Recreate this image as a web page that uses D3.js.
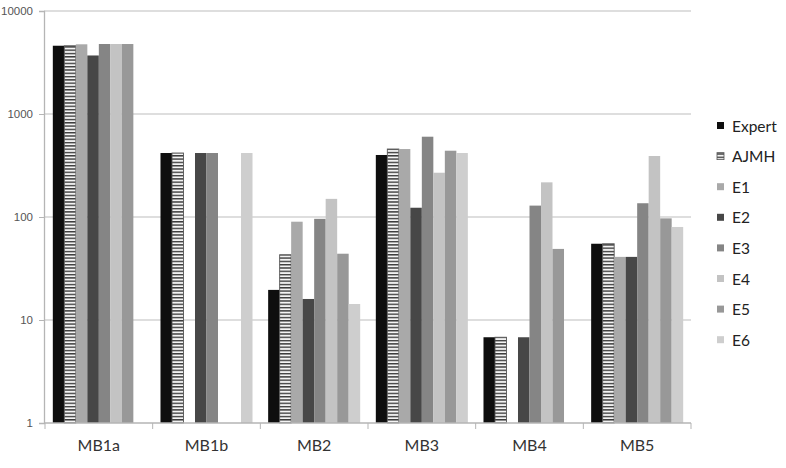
<!DOCTYPE html>
<html>
<head>
<meta charset="utf-8">
<script src="https://cdn.jsdelivr.net/npm/d3@7"></script>
<style>
  body { margin: 0; background: #fff; }
  svg { display: block; font-family: Lato, "Open Sans", sans-serif; }
</style>
</head>
<body>
<svg id="chart"></svg>
<script>
let width = 786,
  height = 468;

// Data (log scale values, null = no bar)
const groups = ["MB1a", "MB1b", "MB2", "MB3", "MB4", "MB5"];
const series = ["Expert", "AJMH", "E1", "E2", "E3", "E4", "E5", "E6"];
const Expert = [4600, 418, 19.6, 400, 6.8, 55];
const AJMH = [4600, 418, 43, 457, 6.8, 55];
const E1 = [4750, null, 90, 457, null, 41];
const E2 = [3700, 418, 16, 123, 6.8, 41];
const E3 = [4780, 418, 96, 602, 129, 136];
const E4 = [4780, null, 150, 269, 217, 391];
const E5 = [4780, null, 44, 440, 49, 97];
const E6 = [null, 418, 14.3, 418, null, 80];
const yTicks = [1, 10, 100, 1000, 10000];

const values = { Expert, AJMH, E1, E2, E3, E4, E5, E6 };
const colors = {
  Expert: "#0e0e0e",
  AJMH: "url(#stripes)",
  E1: "#a9a9a9",
  E2: "#474747",
  E3: "#858585",
  E4: "#c3c3c3",
  E5: "#989898",
  E6: "#cecece",
};

let svg = d3.select("#chart").attr("width", width).attr("height", height);

// striped pattern for AJMH
let pat = svg
  .append("defs")
  .append("pattern")
  .attr("id", "stripes")
  .attr("patternUnits", "userSpaceOnUse")
  .attr("width", 12)
  .attr("height", 3.3);
pat.append("rect").attr("width", 12).attr("height", 3.3).attr("fill", "#3a3a3a");
pat.append("rect").attr("y", 1.4).attr("width", 12).attr("height", 1.9).attr("fill", "#f4f4f4");

// Scales
let x0 = d3.scaleBand().domain(groups).range([45, 691]);
let x1 = d3
  .scaleBand()
  .domain(series)
  .range([0, x0.bandwidth()])
  .paddingOuter(0.68);
let y = d3.scaleLog().domain([1, 10000]).range([423, 11]);

// Gridlines
svg
  .append("g")
  .selectAll("line")
  .data(yTicks.slice(1))
  .enter()
  .append("line")
  .attr("x1", 44)
  .attr("x2", 691)
  .attr("y1", (d) => y(d))
  .attr("y2", (d) => y(d))
  .attr("stroke", "#bdbdbd")
  .attr("stroke-width", 1.2);

// Bars
let rows = [];
groups.forEach((g, i) => {
  series.forEach((s) => {
    if (values[s][i] != null) rows.push({ g: g, s: s, v: values[s][i] });
  });
});

svg
  .append("g")
  .selectAll("rect")
  .data(rows)
  .enter()
  .append("rect")
  .attr("x", (d) => x0(d.g) + x1(d.s))
  .attr("y", (d) => y(d.v))
  .attr("width", x1.bandwidth())
  .attr("height", (d) => y(1) - y(d.v))
  .attr("fill", (d) => colors[d.s])
  .attr("stroke", (d) => (d.s == "AJMH" ? "#555" : "none"))
  .attr("stroke-width", 0.9);

// Y axis
let yAxis = svg
  .append("g")
  .attr("transform", "translate(44,0)")
  .call(
    d3
      .axisLeft(y)
      .tickValues(yTicks)
      .tickFormat(d3.format("d"))
      .tickSize(5)
      .tickPadding(6)
  );
yAxis.select(".domain").attr("stroke", "#b5b5b5").attr("stroke-width", 1.3);
yAxis.selectAll(".tick line").attr("stroke", "#b5b5b5");
yAxis
  .selectAll(".tick text")
  .attr("fill", "#555")
  .style("font-size", "11.5px");

// X axis
let xAxis = svg
  .append("g")
  .attr("transform", "translate(0,423)");
xAxis
  .append("line")
  .attr("x1", 44)
  .attr("x2", 691)
  .attr("stroke", "#b5b5b5")
  .attr("stroke-width", 1.3);
xAxis
  .selectAll(".sep")
  .data(groups.concat(["end"]))
  .enter()
  .append("line")
  .attr("x1", (d, i) => (i < groups.length ? x0(d) : x0.range()[1]))
  .attr("x2", (d, i) => (i < groups.length ? x0(d) : x0.range()[1]))
  .attr("y1", 0)
  .attr("y2", 6)
  .attr("stroke", "#b5b5b5");
xAxis
  .selectAll("text")
  .data(groups)
  .enter()
  .append("text")
  .attr("x", (d) => x0(d) + x0.bandwidth() / 2)
  .attr("y", 28)
  .attr("text-anchor", "middle")
  .attr("fill", "#333")
  .style("font-size", "16px")
  .text((d) => d);

// Legend
let legend = svg
  .append("g")
  .selectAll("g")
  .data(series)
  .enter()
  .append("g")
  .attr("transform", (d, i) => "translate(717," + (126 + i * 30.6) + ")");
legend
  .append("rect")
  .attr("x", 0)
  .attr("y", -4)
  .attr("width", 7)
  .attr("height", 7)
  .attr("fill", (d) => colors[d])
  .attr("stroke", (d) => (d == "AJMH" ? "#555" : "none"))
  .attr("stroke-width", 0.8);
legend
  .append("text")
  .attr("x", 15)
  .attr("y", 0)
  .attr("dy", "0.36em")
  .attr("fill", "#222")
  .style("font-size", "15.5px")
  .text((d) => d);
</script>
</body>
</html>
